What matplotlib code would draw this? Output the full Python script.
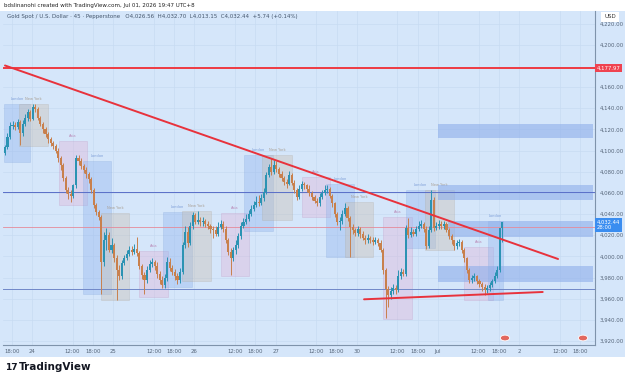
import numpy as np
import matplotlib.pyplot as plt
from matplotlib.patches import Rectangle, Circle

# XAUUSD, 45 minute bars from 23 Jun 16:00 to 1 Jul 19:30 (UTC+8)
# x axis is in trading days counted from 24 Jun 00:00, weekend removed
first_time = -1 / 3
bar_step = 0.03125  # 45 min
first_open = 4098

closes = [4103, 4113, 4123, 4124, 4122, 4127, 4117, 4125, 4131, 4136,
          4130, 4141, 4139, 4131, 4125, 4120, 4116, 4111, 4107, 4104,
          4100, 4093, 4086, 4074, 4063, 4059, 4057, 4067, 4093, 4090,
          4085, 4082, 4078, 4073, 4063, 4049, 4042, 4037, 3995, 4015,
          4020, 4006, 4011, 3998, 3987, 3981, 3994, 3998, 4002, 4006,
          4004, 4007, 4003, 3991, 3982, 3978, 3987, 3993, 3995, 3991,
          3983, 3978, 3973, 3980, 3995, 3989, 3985, 3981, 3978, 3985,
          4011, 4023, 4013, 4029, 4039, 4032, 4034, 4032, 4033, 4031,
          4029, 4026, 4025, 4021, 4028, 4031, 4026, 4015, 4004, 3998,
          4006, 4011, 4019, 4029, 4032, 4035, 4040, 4045, 4049, 4051,
          4050, 4055, 4061, 4077, 4084, 4080, 4086, 4083, 4078, 4074,
          4070, 4068, 4077, 4069, 4063, 4056, 4064, 4068, 4067, 4064,
          4060, 4056, 4052, 4050, 4056, 4060, 4063, 4064, 4057, 4050,
          4040, 4032, 4033, 4040, 4046, 4036, 4028, 4025, 4022, 4026,
          4021, 4017, 4015, 4017, 4015, 4014, 4015, 4013, 4006, 3987,
          3969, 3963, 3967, 3970, 3968, 3981, 3985, 3983, 4027, 4020,
          4023, 4021, 4026, 4029, 4031, 4026, 4010, 4025, 4053, 4027,
          4029, 4031, 4029, 4031, 4025, 4019, 4015, 4010, 4013, 4014,
          4006, 3998, 3987, 3978, 3980, 3981, 3977, 3974, 3971, 3968,
          3970, 3973, 3977, 3981, 3987, 4026.56, 4032.44]

highs = [4105, 4117, 4127, 4128, 4127, 4130, 4129, 4129, 4135, 4139,
         4138, 4144, 4144, 4141, 4133, 4127, 4122, 4118, 4113, 4109,
         4106, 4102, 4095, 4088, 4076, 4066, 4063, 4068, 4096, 4096,
         4093, 4087, 4084, 4080, 4075, 4065, 4050, 4044, 4039, 4023,
         4027, 4023, 4017, 4013, 4001, 3992, 3997, 4001, 4006, 4010,
         4010, 4012, 4018, 4005, 3993, 3985, 3991, 3997, 3998, 3997,
         3995, 3986, 3981, 3983, 3999, 3998, 3992, 3988, 3984, 3989,
         4014, 4029, 4028, 4032, 4042, 4041, 4043, 4037, 4037, 4035,
         4033, 4031, 4029, 4029, 4032, 4034, 4033, 4029, 4017, 4008,
         4009, 4015, 4022, 4032, 4036, 4040, 4044, 4049, 4052, 4057,
         4058, 4059, 4065, 4080, 4087, 4093, 4091, 4090, 4084, 4081,
         4076, 4073, 4081, 4079, 4072, 4065, 4067, 4071, 4070, 4068,
         4067, 4062, 4058, 4055, 4060, 4063, 4067, 4067, 4066, 4059,
         4051, 4042, 4037, 4044, 4050, 4048, 4038, 4031, 4027, 4029,
         4028, 4024, 4020, 4021, 4019, 4018, 4018, 4017, 4015, 4008,
         3989, 3972, 3971, 3974, 3973, 3987, 3989, 3988, 4030, 4036,
         4028, 4026, 4029, 4033, 4034, 4032, 4029, 4029, 4063, 4056,
         4032, 4034, 4033, 4033, 4032, 4027, 4021, 4015, 4015, 4016,
         4015, 4008, 3999, 3989, 3982, 3984, 3982, 3979, 3976, 3974,
         3973, 3976, 3979, 3985, 3991, 4027, 4032.70]

lows = [4096, 4101, 4111, 4120, 4119, 4120, 4105, 4114, 4123, 4128,
        4128, 4129, 4136, 4129, 4123, 4117, 4113, 4107, 4104, 4101,
        4098, 4089, 4082, 4071, 4060, 4054, 4051, 4055, 4065, 4086,
        4083, 4079, 4074, 4069, 4060, 4046, 4039, 4034, 3964, 3991,
        4006, 4004, 4003, 3995, 3959, 3978, 3979, 3992, 3997, 4000,
        4001, 4002, 4000, 3988, 3979, 3964, 3975, 3985, 3990, 3987,
        3980, 3974, 3970, 3970, 3977, 3986, 3982, 3978, 3974, 3975,
        3983, 4008, 4009, 4011, 4026, 4031, 4031, 4029, 4029, 4028,
        4026, 4022, 4017, 4019, 4019, 4026, 4023, 4013, 4001, 3982,
        3996, 4002, 4008, 4016, 4027, 4031, 4033, 4038, 4043, 4047,
        4048, 4049, 4052, 4059, 4075, 4077, 4078, 4080, 4075, 4071,
        4067, 4065, 4067, 4067, 4060, 4053, 4054, 4062, 4064, 4061,
        4057, 4053, 4050, 4048, 4048, 4054, 4058, 4060, 4055, 4047,
        4037, 4030, 4025, 4031, 4038, 4033, 3999, 4021, 4019, 4019,
        4017, 4015, 4012, 4013, 4013, 4011, 4012, 4010, 4004, 3983,
        3942, 3952, 3960, 3964, 3964, 3966, 3979, 3981, 3981, 4017,
        4018, 4019, 4019, 4024, 4027, 4023, 4007, 4008, 4023, 4024,
        4025, 4026, 4026, 4026, 4023, 4016, 4012, 4006, 4007, 4010,
        4003, 3995, 3984, 3975, 3975, 3977, 3974, 3971, 3967, 3963,
        3965, 3967, 3971, 3975, 3980, 3985, 4013.15]

# session boxes: (name, start, end, low, high)
sessions = [
    ("London", -0.345, -0.025, 4089, 4144),
    ("New York", -0.16, 0.197, 4104, 4144),
    ("Asia", 0.333, 0.677, 4049, 4109),
    ("London", 0.628, 0.973, 3964, 4090),
    ("New York", 0.85, 1.195, 3959, 4041),
    ("Asia", 1.318, 1.675, 3962, 4005),
    ("London", 1.613, 1.970, 3971, 4042),
    ("New York", 1.847, 2.204, 3977, 4043),
    ("Asia", 2.328, 2.672, 3981, 4041),
    ("London", 2.611, 2.968, 4024, 4096),
    ("New York", 2.833, 3.202, 4034, 4096),
    ("Asia", 3.325, 3.670, 4037, 4075),
    ("London", 3.621, 3.966, 3999, 4068),
    ("New York", 3.855, 4.200, 3999, 4051),
    ("Asia", 4.323, 4.680, 3941, 4037),
    ("London", 4.606, 4.963, 4008, 4063),
    ("New York", 4.840, 5.197, 4006, 4063),
    ("Asia", 5.320, 5.677, 3959, 4009),
    ("London", 5.616, 5.800, 3959, 4033),
]

# supply / demand zones: (start, low, high)
zones = [(5.0, 4112, 4125), (5.0, 4053, 4067), (5.123, 4018, 4033), (5.0, 3976, 3991)]

resistance = 4177.97
h_lines = [4060.4, 3969.1]
marker_line = 4027.7
trend_down = ([-0.3325, 6.478], [4180.4, 3997.5])
trend_up = ([4.089, 6.289], [3959.4, 3966.3])

tick_pos = [-0.25, 0, 0.5, 0.75, 1, 1.5, 1.75, 2, 2.5, 2.75, 3, 3.5, 3.75,
            4, 4.5, 4.75, 5, 5.5, 5.75, 6, 6.5, 6.75]
tick_lab = ["18:00", "24", "12:00", "18:00", "25", "12:00", "18:00", "26",
            "12:00", "18:00", "27", "12:00", "18:00", "30", "12:00", "18:00",
            "Jul", "12:00", "18:00", "2", "12:00", "18:00"]
price_ticks = [3920, 3940, 3960, 3980, 4000, 4020, 4040, 4060, 4080, 4100,
               4120, 4140, 4160, 4200, 4220]

BG = '#d5e6fa'
UP = '#2b93b3'
DOWN = '#c8804d'
box_style = {
    "Asia": ('#e0b3d6', '#b98ab8'),
    "London": ('#8fb3ee', '#7e9fd8'),
    "New York": ('#c8beb0', '#a9a095'),
}

fig = plt.figure(figsize=(6.25, 3.8), dpi=100)
fig.patch.set_facecolor('white')
fig.patches.append(Rectangle((0, 23 / 380), 1, 346 / 380, transform=fig.transFigure,
                             facecolor=BG, edgecolor='none', zorder=-10))

ax = fig.add_axes([3 / 625, 35 / 380, 592 / 625, 334 / 380])
ax.set_facecolor(BG)
ax.set_xlim(-0.357, 6.933)
ax.set_ylim(3916.2, 4231.9)

ax.set_xticks(tick_pos)
ax.set_xticklabels(tick_lab)
ax.set_yticks(price_ticks)
ax.set_yticklabels([f"{p:,.2f}" for p in price_ticks])
ax.yaxis.tick_right()
ax.tick_params(axis='both', length=0, labelsize=3.9, colors='#56667a')
ax.tick_params(axis='x', pad=3)
ax.tick_params(axis='y', pad=3.5)
ax.grid(color='#c8dbf2', lw=0.5)
ax.set_axisbelow(True)
for side in ['top', 'left']:
    ax.spines[side].set_visible(False)
for side in ['right', 'bottom']:
    ax.spines[side].set_color('#7f93ab')
    ax.spines[side].set_linewidth(0.8)

# session boxes
for name, s, e, lo, hi in sessions:
    fc, ec = box_style[name]
    ax.add_patch(Rectangle((s, lo), e - s, hi - lo, facecolor=fc, edgecolor=ec,
                           lw=0.4, alpha=0.38, zorder=1))
    ax.text((s + e) / 2, hi + 3, name, fontsize=2.6, color=ec, ha='center',
            va='bottom', zorder=1)

# zones
for s, lo, hi in zones:
    ax.add_patch(Rectangle((s, lo), 6.91 - s, hi - lo, facecolor='#8eaeea',
                           edgecolor='none', alpha=0.6, zorder=1.5))

ax.axhline(h_lines[0], color='#5a6fc8', lw=0.7, zorder=2)
ax.axhline(h_lines[1], color='#7088c8', lw=0.7, zorder=2)
ax.axhline(marker_line, color='#e58a9a', lw=0.6, zorder=2)

# candles
opens = [first_open] + closes[:-1]
o = np.array(opens, dtype=float)
c = np.array(closes, dtype=float)
h = np.maximum(np.array(highs, dtype=float), np.maximum(o, c))
l = np.minimum(np.array(lows, dtype=float), np.minimum(o, c))
x = first_time + np.arange(len(c)) * bar_step
cols = np.where(c >= o, UP, DOWN)
ax.vlines(x, l, h, colors=cols, lw=0.7, zorder=3)
ax.bar(x, np.maximum(np.abs(c - o), 0.8), bottom=np.minimum(o, c),
       width=bar_step * 0.82, color=cols, zorder=3.1)

# drawn lines
ax.axhline(resistance, color='#ee3a42', lw=1.4, zorder=4)
ax.plot(*trend_down, color='#e8323c', lw=1.4, zorder=4, solid_capstyle='round')
ax.plot(*trend_up, color='#e8323c', lw=1.4, zorder=4, solid_capstyle='round')

# price axis labels
ytr = ax.get_yaxis_transform()
ax.text(1.003, resistance, f"{resistance:,.2f}", transform=ytr, fontsize=3.9,
        color='white', va='center', ha='left', zorder=10, clip_on=False,
        bbox=dict(boxstyle='square,pad=0.3', fc='#ef4350', ec='none'))
ax.text(1.003, closes[-1] - 3, f"{closes[-1]:,.2f}\n28:00", transform=ytr,
        fontsize=3.8, color='white', va='center', ha='left', zorder=10,
        clip_on=False, linespacing=1.1,
        bbox=dict(boxstyle='square,pad=0.3', fc='#3a8df0', ec='none'))

fig.text(610 / 625, 1 - 17 / 380, "USD", fontsize=4, color='#333', ha='center',
         va='center', bbox=dict(boxstyle='square,pad=0.5', fc='white', ec='none'))

# header texts
fig.text(4 / 625, 1 - 5 / 380,
         "bdslinanohi created with TradingView.com, Jul 01, 2026 19:47 UTC+8",
         fontsize=4, color='#222', va='center')
fig.text(7 / 625, 1 - 16.5 / 380,
         "Gold Spot / U.S. Dollar · 45 · Pepperstone   O4,026.56  H4,032.70  "
         "L4,013.15  C4,032.44  +5.74 (+0.14%)",
         fontsize=4, color='#44556b', va='center')

# little event flags
for fx in [505, 583]:
    fig.patches.append(Circle((fx / 625, 1 - 338 / 380), 0.0075,
                              transform=fig.transFigure, facecolor='#e2685f',
                              edgecolor='white', lw=0.6, zorder=5))

# footer logo
fig.text(5 / 625, 1 - 367.5 / 380, "17", fontsize=6.5, weight='bold',
         color='#131722', va='center')
fig.text(19 / 625, 1 - 367.5 / 380, "TradingView", fontsize=7.5, weight='bold',
         color='#131722', va='center')

fig.savefig('out.png', dpi=100)
